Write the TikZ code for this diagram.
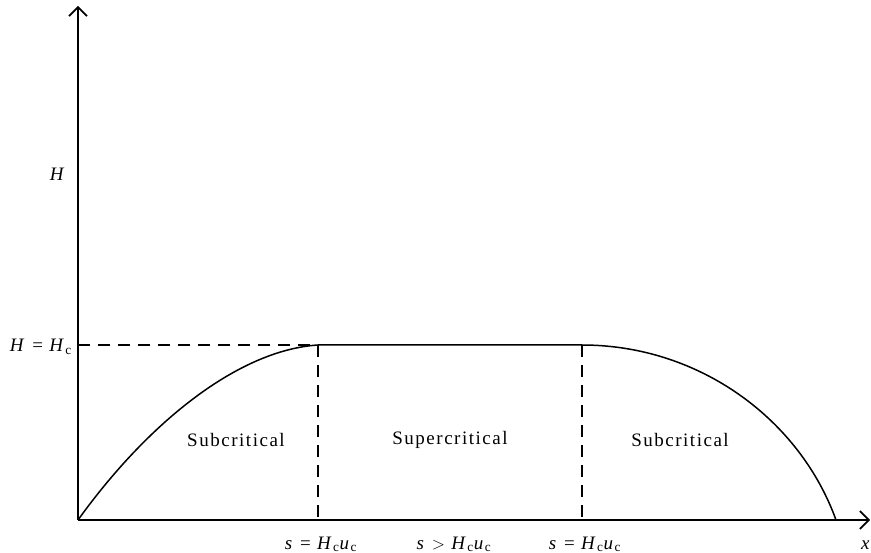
\documentclass[tikz,border=0pt]{standalone}
\usepackage{fontspec}
\setmainfont{Liberation Serif}[LetterSpace=8]
\usetikzlibrary{arrows.meta}
\tikzset{
  axis/.style={line width=1.6pt,-{Straight Barb[length=9pt,width=18pt,line width=1.6pt]}},
  curve/.style={line width=1.5pt},
  guide/.style={line width=1.5pt,dash pattern=on 12pt off 8pt},
  lbl/.style={font=\fontsize{19}{21}\selectfont,inner sep=0pt}
}
\newcommand{\sub}[1]{\textsubscript{#1}}
\begin{document}
\begin{tikzpicture}[x=1pt,y=-1pt]
\useasboundingbox (0,0) rectangle (871,553);
\coordinate (O) at (78,520);
\coordinate (ytop) at (78,6);
\coordinate (xend) at (870,520);
\coordinate (hc) at (78,345);
\coordinate (A) at (318,345);
\coordinate (B) at (582,345);
\coordinate (E) at (836,520);
\coordinate (Ab) at (318,520);
\coordinate (Bb) at (582,520);
\draw[axis] (O) -- (ytop);
\draw[axis] (O) -- (xend);
\draw[curve] (O) .. controls (150,420) and (240,350) .. (A) -- (B)
  .. controls (700,345) and (800,420) .. (E);
\draw[guide] (hc) -- (A);
\draw[guide] (A) -- (Ab);
\draw[guide] (B) -- (Bb);
\node[lbl] (lH) at (58,174) {\textit{H}};
\node[lbl,anchor=east] (lHc) at (72,347) {\textit{H} = \textit{H}\sub{c}};
\node[lbl] (sub1) at (236,440) {Subcritical};
\node[lbl] (sup) at (450,440) {Supercritical};
\node[lbl] (sub2) at (680,440) {Subcritical};
\node[lbl,anchor=base] (b1) at (321,549) {\textit{s} = \textit{H}\sub{c}\textit{u}\sub{c}};
\node[lbl,anchor=base] (b2) at (454,549) {\textit{s} $>$ \textit{H}\sub{c}\textit{u}\sub{c}};
\node[lbl,anchor=base] (b3) at (585,549) {\textit{s} = \textit{H}\sub{c}\textit{u}\sub{c}};
\node[lbl,anchor=base] (lx) at (866,549) {\textit{x}};
\end{tikzpicture}
\end{document}
